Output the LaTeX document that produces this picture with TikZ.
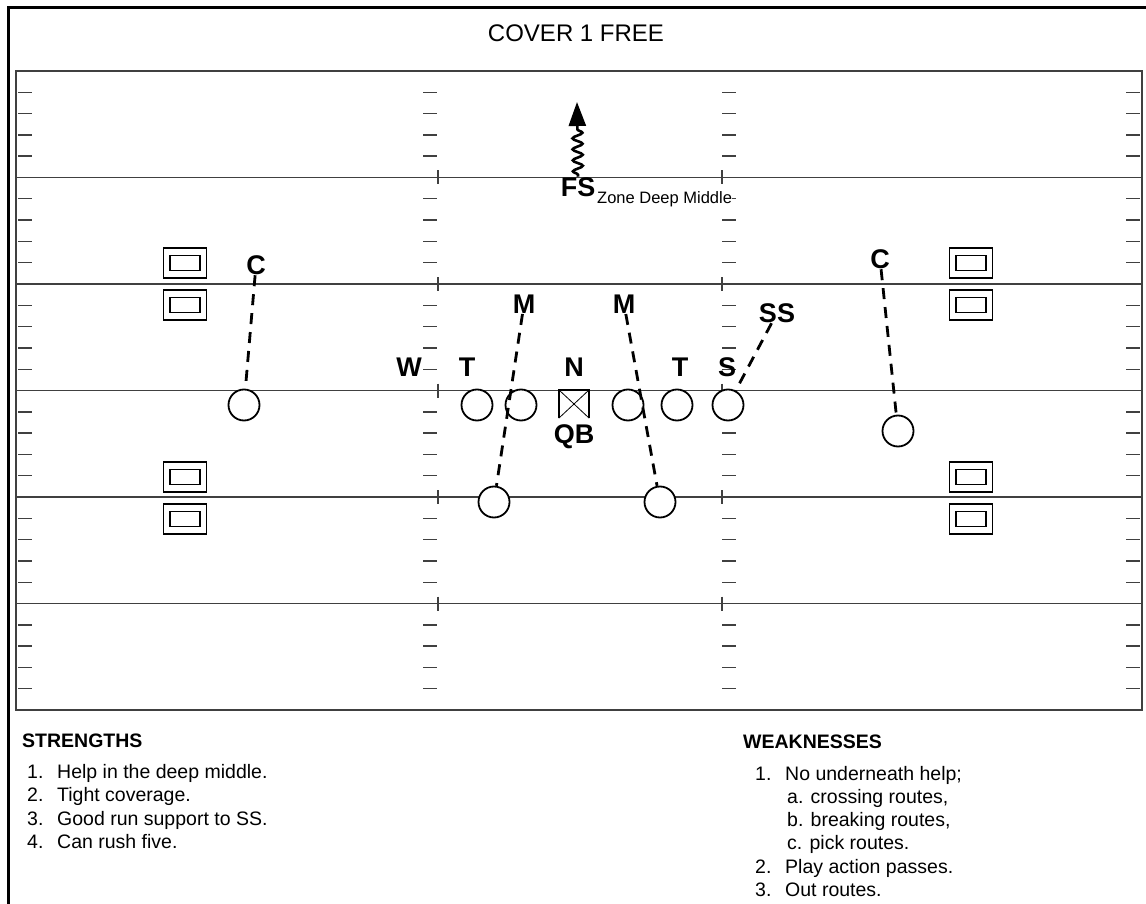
\documentclass[tikz,border=0pt]{standalone}
\usepackage{fontspec}
\setmainfont{Liberation Sans}
\usetikzlibrary{arrows.meta,decorations.pathmorphing,positioning}

\tikzset{
  player/.style={circle, draw, fill=white, line width=1.8pt, minimum size=31pt, inner sep=0pt},
  dlabel/.style={font=\fontsize{27}{27}\selectfont\bfseries, inner sep=0.5pt},
  cover/.style={line width=2.8pt, dash pattern=on 11pt off 8pt},
  fieldline/.style={draw=black!75, line width=1.4pt},
  slot/.style={draw, line width=1.2pt, minimum width=43pt, minimum height=30pt, inner sep=0pt,
    path picture={\draw[line width=1.2pt]
      ([shift={(-15pt,-7.5pt)}]path picture bounding box.center) rectangle
      ([shift={(15pt,7.5pt)}]path picture bounding box.center);}},
  listtext/.style={anchor=base west, inner sep=0pt, font=\fontsize{19.5}{23}\selectfont}
}

\begin{document}
\begin{tikzpicture}[%
x=1pt,
y=-1pt,
>=Stealth
]
\useasboundingbox (0,0) rectangle (1146,904);

% frame and field
\draw[line width=3pt] (1146,8) -- (8,8) -- (8,904);
\node[font=\fontsize{24}{24}\selectfont, anchor=base, inner sep=0pt] (title) at (576,42) {COVER 1 FREE};
\draw[fieldline] (16,71) rectangle (1142,710);
\foreach \k in {1,...,5} {
  \pgfmathsetmacro\yl{71+106.5*\k}
  \draw[fieldline] (16,\yl) -- (1142,\yl);
  \draw[fieldline] (438,\yl-7) -- (438,\yl+7);
  \draw[fieldline] (722,\yl-7) -- (722,\yl+7);
}
\foreach \j in {1,...,29} {
  \pgfmathsetmacro\yt{71+21.3*\j}
  \pgfmathtruncatemacro\r{mod(\j,5)}
  \ifnum\r>0
    \draw[fieldline] (18,\yt) -- (32,\yt);
    \draw[fieldline] (423,\yt) -- (437,\yt);
    \draw[fieldline] (722,\yt) -- (736,\yt);
    \draw[fieldline] (1126,\yt) -- (1140,\yt);
  \fi
}

% slots
\node[slot] (sl1) at (185,263) {};
\node[slot] (sl2) at (185,305) {};
\node[slot] (sl3) at (185,477) {};
\node[slot] (sl4) at (185,519) {};
\node[slot] (sr1) at (971,263) {};
\node[slot] (sr2) at (971,305) {};
\node[slot] (sr3) at (971,477) {};
\node[slot] (sr4) at (971,519) {};

% offense
\node[player] (wrl) at (244,405) {};
\node[player] (lt) at (477,405) {};
\node[player] (lg) at (521,405) {};
\node[minimum width=30pt, minimum height=28pt, inner sep=0pt] (ctr) at (574,404) {};
\draw[line width=1.6pt] (ctr.south west) -- (ctr.north west) -- (ctr.north east) -- (ctr.south east);
\draw[line width=0.8pt] (ctr.north west) -- (ctr.south east) (ctr.north east) -- (ctr.south west);
\node[player] (rg) at (628,405) {};
\node[player] (rt) at (677,405) {};
\node[player] (te) at (728,405) {};
\node[player] (wrr) at (898,431) {};
\node[player] (rbl) at (494,502) {};
\node[player] (rbr) at (660,502) {};
\node[dlabel, below=6pt of ctr] (qb) {QB};

% defense
\node[dlabel] (fs) at (578,187) {FS};
\node[font=\fontsize{16.5}{16.5}\selectfont, anchor=west, inner sep=0pt, fill=white] (zone) at (597,199) {Zone Deep Middle};
\node[dlabel] (cl) at (256,265) {C};
\node[dlabel] (cr) at (880,259) {C};
\node[dlabel] (ml) at (524,304) {M};
\node[dlabel] (mr) at (624,304) {M};
\node[dlabel] (w) at (409,367) {W};
\node[dlabel] (tl) at (467,367) {T};
\node[dlabel] (n) at (574,367) {N};
\node[dlabel] (tr) at (680,367) {T};
\node[dlabel] (s) at (727,367) {S};
\node[dlabel] (ss) at (777,313) {SS};
\coordinate (deep) at (577,102);

% coverage
\draw[line width=2.6pt, decorate, decoration={snake, amplitude=5pt, segment length=11pt, pre length=2pt, post length=22pt}, -{Triangle[length=24pt,width=17pt]}] (fs.north) -- (deep);
\draw[cover] (cl) -- (wrl);
\draw[cover] (cr) -- (wrr);
\draw[cover] (ml) -- (rbl);
\draw[cover] (mr) -- (rbr);
\draw[cover] (ss) -- (te);

% lists
\node[listtext, font=\fontsize{19.5}{23}\selectfont\bfseries] (strhead) at (22,747) {STRENGTHS};
\foreach \t [count=\i] in {Help in the deep middle., Tight coverage., Good run support to SS., Can rush five.} {
  \node[listtext] (snum\i) at (27,754.5+23.5*\i) {\i.};
  \node[listtext] (sitem\i) at (57,754.5+23.5*\i) {\t};
}
\node[listtext, font=\fontsize{19.5}{23}\selectfont\bfseries] (weakhead) at (743,748) {WEAKNESSES};
\foreach \n/\i in {1/0, 2/4, 3/5}
  \node[listtext] (wnum\n) at (755,780+23.3*\i) {\n.};
\foreach \x/\t [count=\i from 0] in {785/{No underneath help;}, 787/{a. crossing routes,}, 787/{b. breaking routes,}, 787/{c. pick routes.}, 785/{Play action passes.}, 785/{Out routes.}}
  \node[listtext] (witem\i) at (\x,780+23.3*\i) {\t};
\end{tikzpicture}
\end{document}
